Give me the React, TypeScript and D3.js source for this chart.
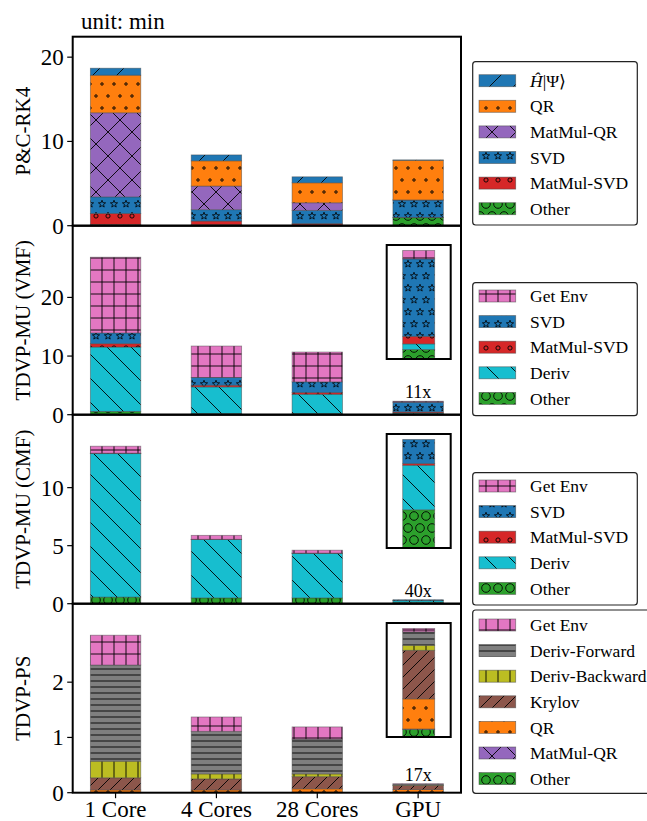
import React from 'react';
import * as d3 from 'd3';

const categories = ['1 Core', '4 Cores', '28 Cores', 'GPU'];

// P&C-RK4, bottom to top
const rkKeys = ['Other', 'MatMul-SVD', 'SVD', 'MatMul-QR', 'QR', 'H'];
const rkOther = [0.15, 0.1, 0.1, 0.95];
const rkMatMulSVD = [1.3, 0.45, 0.15, 0.04];
const rkSVD = [1.97, 1.35, 1.57, 2.05];
const rkMatMulQR = [9.98, 2.8, 0.9, 0.02];
const rkQR = [4.46, 3.0, 2.37, 4.7];
const rkH = [0.83, 0.7, 0.71, 0.05];

// TDVP-MU (VMF)
const vmfKeys = ['Other', 'Deriv', 'MatMul-SVD', 'SVD', 'Get Env'];
const vmfOther = [0.57, 0.2, 0.2, 0.2];
const vmfDeriv = [10.97, 4.54, 3.29, 0.12];
const vmfMatMulSVD = [0.57, 0.29, 0.28, 0.16];
const vmfSVD = [1.83, 1.31, 1.83, 1.64];
const vmfGetEnv = [12.92, 5.37, 5.09, 0.18];

// TDVP-MU (CMF)
const cmfKeys = ['Other', 'Deriv', 'MatMul-SVD', 'SVD', 'Get Env'];
const cmfOther = [0.57, 0.5, 0.5, 0.12];
const cmfDeriv = [12.36, 5.03, 3.84, 0.14];
const cmfMatMulSVD = [0.02, 0.01, 0.01, 0.005];
const cmfSVD = [0.02, 0.01, 0.01, 0.076];
const cmfGetEnv = [0.6, 0.34, 0.25, 0.0];

// TDVP-PS
const psKeys = ['Other', 'MatMul-QR', 'QR', 'Krylov', 'Deriv-Backward', 'Deriv-Forward', 'Get Env'];
const psOther = [0.01, 0.01, 0.01, 0.0114];
const psMatMulQR = [0.0, 0.0, 0.0, 0.0005];
const psQR = [0.04, 0.04, 0.06, 0.0446];
const psKrylov = [0.22, 0.2, 0.22, 0.072];
const psDerivBackward = [0.3, 0.09, 0.05, 0.0074];
const psDerivForward = [1.74, 0.77, 0.63, 0.02];
const psGetEnv = [0.54, 0.26, 0.22, 0.005];

const panelLabels = ['P&C-RK4', 'TDVP-MU (VMF)', 'TDVP-MU (CMF)', 'TDVP-PS'];
const panelTicks = [[0, 10, 20], [0, 10, 20], [0, 5, 10], [0, 1, 2]];
const speedups = [null, '11x', '40x', '17x'];

const styles = {
  'H': { color: '#1f77b4', hatch: '/' },
  'QR': { color: '#ff7f0e', hatch: '.' },
  'MatMul-QR': { color: '#9467bd', hatch: 'x' },
  'SVD': { color: '#1f77b4', hatch: '*' },
  'MatMul-SVD': { color: '#d62728', hatch: 'o' },
  'Other': { color: '#2ca02c', hatch: 'O' },
  'Get Env': { color: '#e377c2', hatch: '+' },
  'Deriv': { color: '#17becf', hatch: '\\' },
  'Deriv-Forward': { color: '#7f7f7f', hatch: '-' },
  'Deriv-Backward': { color: '#bcbd22', hatch: '|' },
  'Krylov': { color: '#8c564b', hatch: '//' },
};

const panels = [
  { keys: rkKeys, series: [rkOther, rkMatMulSVD, rkSVD, rkMatMulQR, rkQR, rkH] },
  { keys: vmfKeys, series: [vmfOther, vmfDeriv, vmfMatMulSVD, vmfSVD, vmfGetEnv] },
  { keys: cmfKeys, series: [cmfOther, cmfDeriv, cmfMatMulSVD, cmfSVD, cmfGetEnv] },
  { keys: psKeys, series: [psOther, psMatMulQR, psQR, psKrylov, psDerivBackward, psDerivForward, psGetEnv] },
];

const W = 647, H = 821;
const left = 72.7, right = 461;
const top0 = 36.7, panelH = 189;
const legendBox = [
  { top: 61.7, first: 80.7, h: 163.3, w: 164.6 },
  { top: 282.7, first: 296, h: 133, w: 164.6 },
  { top: 472.7, first: 486, h: 132.3, w: 164.6 },
  { top: 610, first: 625, h: 183.3, w: 200 },
];
const rowPitch = 25.6;
const serif = '"Liberation Serif", "DejaVu Serif", serif';

function starPath(cx, cy, ro, ri) {
  const pts = d3.range(10).map(i => {
    const a = -Math.PI / 2 + i * Math.PI / 5;
    const r = i % 2 === 0 ? ro : ri;
    return [cx + r * Math.cos(a), cy + r * Math.sin(a)];
  });
  return 'M' + pts.map(p => p[0].toFixed(2) + ',' + p[1].toFixed(2)).join('L') + 'Z';
}

function Hatch({ id, color, hatch }) {
  const sw = 0.9;
  const stagger = (draw) => [[0, 0], [12, 0], [0, 24], [12, 24], [6, 12]].map((p, i) => draw(p[0], p[1], i));
  let w = 12, h = 12, marks = null;
  if (hatch === '/' || hatch === '\\' || hatch === 'x' || hatch === '//') {
    const s = hatch === '//' ? 12 : 24;
    w = s; h = s;
    const q = s / 4;
    const ne = `M${-q},${q}L${q},${-q}M0,${s}L${s},0M${s - q},${s + q}L${s + q},${s - q}`;
    const nw = `M${-q},${s - q}L${q},${s + q}M0,0L${s},${s}M${s - q},${-q}L${s + q},${q}`;
    const d = hatch === 'x' ? ne + nw : hatch === '\\' ? nw : ne;
    marks = <path d={d} stroke="#000" strokeWidth={sw} fill="none" />;
  } else if (hatch === '+') {
    marks = <path d="M0,6H12M6,0V12" stroke="#000" strokeWidth={sw} />;
  } else if (hatch === '|') {
    marks = <path d="M6,0V12" stroke="#000" strokeWidth={sw} />;
  } else if (hatch === '-') {
    h = 6;
    marks = <path d="M0,3H12" stroke="#000" strokeWidth={sw} />;
  } else if (hatch === '*') {
    h = 24;
    marks = stagger((x, y, i) => <path key={i} d={starPath(x, y, 3.8, 1.6)} stroke="#000" strokeWidth={0.8} fill="none" />);
  } else {
    h = 24;
    const r = hatch === 'O' ? 4.3 : hatch === 'o' ? 2.1 : 1.2;
    marks = stagger((x, y, i) => <circle key={i} cx={x} cy={y} r={r} stroke="#000" strokeWidth={hatch === '.' ? 1 : 0.9} fill="none" />);
  }
  return (
    <pattern id={id} width={w} height={h} patternUnits="userSpaceOnUse">
      <rect width={w} height={h} fill={color} />
      {marks}
    </pattern>
  );
}

const patId = (k) => 'hatch-' + k.replace(/[^A-Za-z]/g, '');

function Stack({ keys, series, col, xs, ys, x0, bw }) {
  const row = {};
  keys.forEach((k, i) => { row[k] = series[i][col]; });
  const stacked = d3.stack().keys(keys)([row]);
  return (
    <g>
      {stacked.map(layer => {
        const [a, b] = layer[0];
        if (b - a <= 0) return null;
        return (
          <rect key={layer.key} x={x0} width={bw} y={ys(b)} height={ys(a) - ys(b)}
            fill={`url(#${patId(layer.key)})`} stroke="#444" strokeOpacity={0.55} strokeWidth={0.8} />
        );
      })}
    </g>
  );
}

function LegendLabel({ k }) {
  if (k === 'H') {
    return (<><tspan fontStyle="italic">Ĥ</tspan><tspan>|Ψ⟩</tspan></>);
  }
  return <>{k}</>;
}

export default function App() {
  const x = d3.scaleLinear().domain([-0.425, 3.425]).range([left, right]);
  const bw = x(0.25) - x(-0.25);

  return (
    <svg width={W} height={H} style={{ position: 'absolute', left: 0, top: 0, background: '#fff' }} fontFamily={serif}>
      <defs>
        {Object.keys(styles).map(k => <Hatch key={k} id={patId(k)} color={styles[k].color} hatch={styles[k].hatch} />)}
      </defs>
      <text x={81} y={29} fontSize={23}>unit: min</text>

      {panels.map((p, pi) => {
        const pt = top0 + pi * panelH;
        const pb = pt + panelH;
        const totals = categories.map((c, ci) => d3.sum(p.series, s => s[ci]));
        const y = d3.scaleLinear().domain([0, d3.max(totals) * 1.2]).range([pb, pt]);
        const gpu = categories.length - 1;
        const lb = legendBox[pi];
        const legendKeys = p.keys.slice().reverse();
        return (
          <g key={pi}>
            {categories.map((c, ci) => (
              <Stack key={c} keys={p.keys} series={p.series} col={ci} xs={x} ys={y} x0={x(ci) - bw / 2} bw={bw} />
            ))}
            {speedups[pi] && (
              <text x={x(gpu)} y={y(totals[gpu]) - 3} fontSize={18} textAnchor="middle">{speedups[pi]}</text>
            )}
            {pi > 0 && (() => {
              const bx0 = 386.7, bx1 = 450.7;
              const by0 = pt + 19.3, by1 = by0 + 114;
              const iy = d3.scaleLinear().domain([0, totals[gpu] * 1.05]).range([by1, by0]);
              const ix = d3.scaleLinear().domain([-1, 1]).range([bx0, bx1]);
              return (
                <g>
                  <rect x={bx0} y={by0} width={bx1 - bx0} height={by1 - by0} fill="#fff" stroke="none" />
                  <Stack keys={p.keys} series={p.series} col={gpu} xs={ix} ys={iy} x0={ix(-0.5)} bw={ix(0.5) - ix(-0.5)} />
                  <rect x={bx0} y={by0} width={bx1 - bx0} height={by1 - by0} fill="none" stroke="#000" strokeWidth={2} />
                </g>
              );
            })()}
            {/* axes frame */}
            <rect x={left} y={pt} width={right - left} height={panelH} fill="none" stroke="#000" strokeWidth={2} />
            {panelTicks[pi].map(t => (
              <g key={t}>
                <line x1={left - 5.5} x2={left} y1={y(t)} y2={y(t)} stroke="#000" strokeWidth={1.2} />
                <text x={left - 9} y={y(t)} dy="0.35em" fontSize={23} textAnchor="end">{t}</text>
              </g>
            ))}
            <text transform={`translate(23,${pt + panelH / 2}) rotate(-90)`} fontSize={21} textAnchor="middle" dominantBaseline="central">{panelLabels[pi]}</text>

            {/* legend */}
            <rect x={472.7} y={lb.top} width={lb.w} height={lb.h} rx={3} fill="#fff" stroke="#222" strokeWidth={1.2} />
            {legendKeys.map((k, li) => {
              const cy = lb.first + li * rowPitch;
              return (
                <g key={k}>
                  <rect x={479} y={cy - 6} width={36.7} height={12} fill={`url(#${patId(k)})`} stroke="#444" strokeOpacity={0.6} strokeWidth={0.8} />
                  <text x={530} y={cy} dy="0.35em" fontSize={17.5}><LegendLabel k={k} /></text>
                </g>
              );
            })}
          </g>
        );
      })}

      {categories.map((c, ci) => (
        <g key={c}>
          <line x1={x(ci)} x2={x(ci)} y1={top0 + 4 * panelH} y2={top0 + 4 * panelH + 5.5} stroke="#000" strokeWidth={1.2} />
          <text x={x(ci)} y={817} fontSize={23} textAnchor="middle">{c}</text>
        </g>
      ))}
    </svg>
  );
}
